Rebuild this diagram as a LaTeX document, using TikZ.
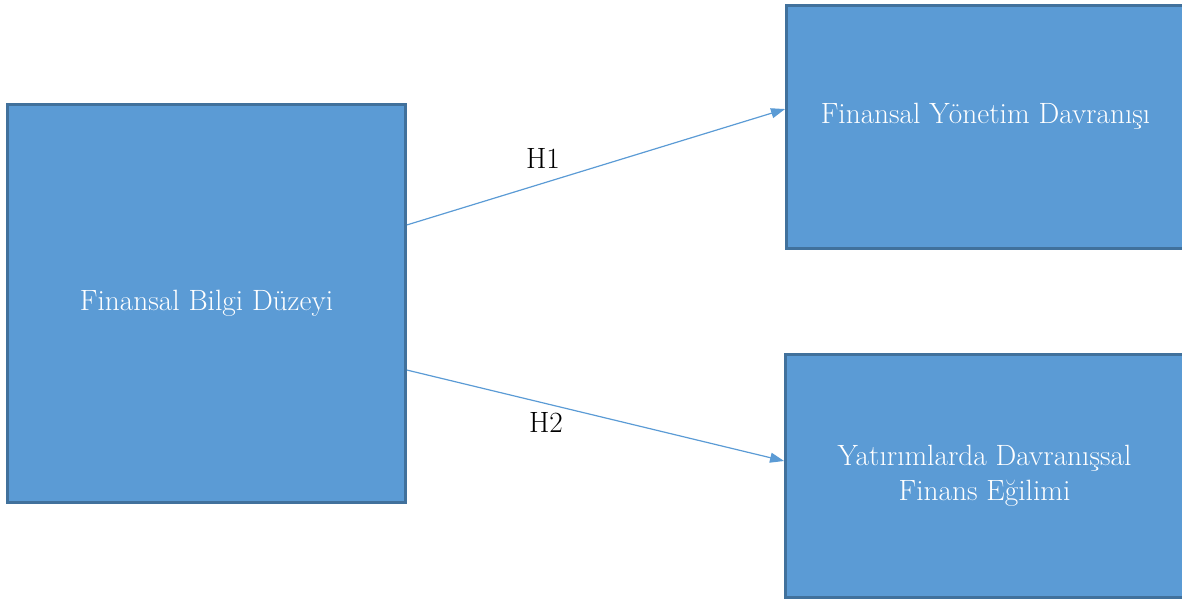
\documentclass[tikz,border=0pt]{standalone}
\usetikzlibrary{calc,arrows.meta}

\definecolor{boxfill}{HTML}{5B9BD5}
\definecolor{boxline}{HTML}{41719C}

\begin{document}
\begin{tikzpicture}[x=0.75pt,y=-0.75pt,
	var/.style={draw=boxline, line width=2.2pt, fill=boxfill, text=white,
		font=\fontsize{22}{26}\selectfont, align=center, inner sep=0pt},
	link/.style={draw=boxfill, line width=0.9pt,
		-{Triangle[length=10.5pt,width=7.5pt]}},
	hyp/.style={font=\fontsize{22}{26}\selectfont}]
	\useasboundingbox (0,0) rectangle (1182,601);

	\node [var, minimum width=298.5pt, minimum height=298.5pt] (bilgi) at (206.5,303.5) {Finansal Bilgi D\"uzeyi};
	\node [var, minimum width=298.5pt, minimum height=182.25pt, text depth=20pt] (yonetim) at (985.5,127) {Finansal Y\"onetim Davran\i\c{s}\i};
	\node [var, minimum width=298.5pt, minimum height=182.25pt] (egilim) at (984.5,476) {Yat\i r\i mlarda Davran\i\c{s}sal\\Finans E\u{g}ilimi};

	\draw [link] ($(bilgi.north east)!0.304!(bilgi.south east)$) -- ($(yonetim.north west)!0.427!(yonetim.south west)$);
	\draw [link] ($(bilgi.north east)!0.666!(bilgi.south east)$) -- ($(egilim.north west)!0.439!(egilim.south west)$);

	\node [hyp] (h1) at (543,158) {H1};
	\node [hyp] (h2) at (546,422) {H2};
\end{tikzpicture}
\end{document}
